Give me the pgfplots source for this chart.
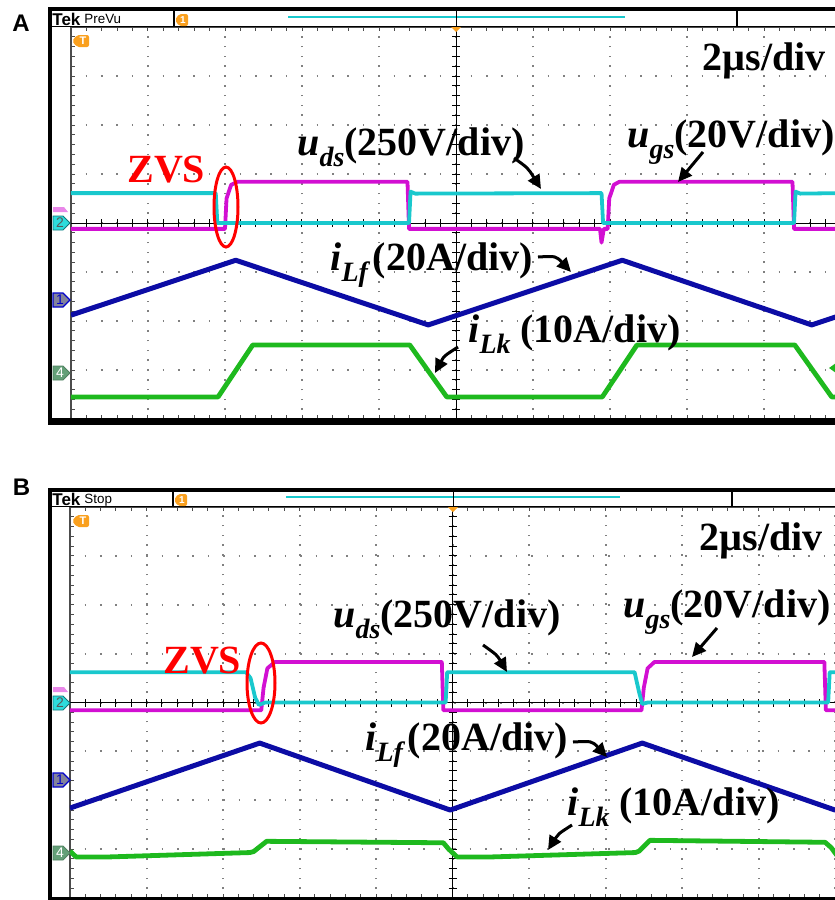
\documentclass[border=0pt]{standalone}
\usepackage{pgfplots}
\pgfplotsset{compat=1.18}
\usepackage{fontspec}
\setmainfont{Liberation Serif}
\newfontfamily\sansf{Liberation Sans}
\usetikzlibrary{arrows.meta}

\definecolor{cyanT}{RGB}{25,200,205}
\definecolor{magT}{RGB}{210,15,210}
\definecolor{blueT}{RGB}{12,12,165}
\definecolor{greenT}{RGB}{30,185,30}
\definecolor{orangeT}{RGB}{250,160,30}
\definecolor{mk1}{RGB}{130,130,155}
\definecolor{mk4}{RGB}{100,160,120}
\definecolor{mk2}{RGB}{45,220,220}

\newcommand{\lbl}[3][0pt]{\textit{#2}\raisebox{-0.28em}{\fontsize{14pt}{14pt}\selectfont\itshape #3}\kern#1\relax}
\newcommand{\bigf}{\fontsize{20pt}{24pt}\selectfont\bfseries}

\pgfplotsset{tek/.style={
  scale only axis, anchor=south west, ymin=0, ymax=8, xmin=0,
  xtick={0,...,10}, ytick={0,...,8}, minor x tick num=4, minor y tick num=4,
  xticklabels={}, yticklabels={},
  tick align=inside, major tick length=2.2pt, minor tick length=2.2pt,
  tick style={black!70, line width=0.5pt},
  grid=major,
  x grid style={black!50, line width=1pt, dash pattern=on 0.8pt off 4.1pt, dash phase=0.4pt},
  y grid style={black!50, line width=1pt, dash pattern=on 0.8pt off 6.9pt, dash phase=0.4pt},
  axis line style={black!70, line width=0.6pt},
  trace/.style={line width=1.9pt, line join=round},
}}

\begin{document}
\begin{tikzpicture}
\path[use as bounding box] (0,0) rectangle (417.5pt,-450pt);
\begin{scope}
\clip (0,0) rectangle (417.5pt,-450pt);

% ---------------- Panel A ----------------
\begin{axis}[tek, at={(35.5pt,-209.5pt)}, width=385pt, height=196pt, xmax=10]
\draw[black, line width=0.5pt] (axis cs:5,0) -- (axis cs:5,8);
\draw[black, line width=0.5pt] (axis cs:0,4) -- (axis cs:10,4);
\pgfplotsinvokeforeach{0,...,50}{\draw[black,line width=0.5pt] (axis cs:#1/5,4) ++(0,-2pt) -- ++(0,4pt);}
\pgfplotsinvokeforeach{0,...,40}{\draw[black,line width=0.5pt] (axis cs:5,#1/5) ++(-2pt,0) -- ++(4pt,0);}
% u_gs
\addplot[magT, trace] coordinates {(0,3.88)(2.00,3.88)(2.02,4.5)(2.08,4.78)(2.16,4.84)(4.37,4.84)(4.39,3.88)(6.87,3.88)(6.89,3.6)(6.92,3.88)(6.97,3.88)(6.99,4.5)(7.05,4.78)(7.12,4.84)(9.37,4.84)(9.39,3.88)(10,3.88)};
% u_ds
\addplot[cyanT, trace] coordinates {(0,4.61)(1.88,4.61)(1.90,4.0)(4.39,4.0)(4.41,4.64)(4.47,4.60)(6.89,4.61)(6.91,4.0)(9.39,4.0)(9.41,4.64)(9.47,4.60)(10,4.61)};
% i_Lf
\addplot[blueT, trace, line width=2.5pt] coordinates {(0,2.12)(2.14,3.24)(4.64,1.92)(7.16,3.24)(9.62,1.92)(10,2.12)};
% i_Lk
\addplot[greenT, trace, line width=2.4pt] coordinates {(0,0.45)(1.91,0.45)(2.36,1.51)(4.40,1.51)(4.88,0.45)(6.90,0.45)(7.35,1.51)(9.40,1.51)(9.88,0.45)(10,0.45)};
\end{axis}

% ---------------- Panel B ----------------
\begin{axis}[tek, at={(35pt,-449pt)}, width=387.5pt, height=195.5pt, xmax=10.13]
\draw[black, line width=0.5pt] (axis cs:5,0) -- (axis cs:5,8);
\draw[black, line width=0.5pt] (axis cs:0,4) -- (axis cs:10.13,4);
\pgfplotsinvokeforeach{0,...,50}{\draw[black,line width=0.5pt] (axis cs:#1/5,4) ++(0,-2pt) -- ++(0,4pt);}
\pgfplotsinvokeforeach{0,...,40}{\draw[black,line width=0.5pt] (axis cs:5,#1/5) ++(-2pt,0) -- ++(4pt,0);}
% u_gs
\addplot[magT, trace] coordinates {(0,3.84)(2.50,3.84)(2.53,4.3)(2.58,4.7)(2.68,4.83)(4.86,4.83)(4.88,3.84)(7.47,3.84)(7.50,4.3)(7.55,4.7)(7.64,4.83)(9.86,4.83)(9.88,3.84)(10.13,3.84)};
% u_ds
\addplot[cyanT, trace] coordinates {(0,4.62)(2.30,4.62)(2.36,4.5)(2.42,4.1)(2.47,3.95)(2.55,4.0)(4.91,4.0)(4.93,4.62)(7.38,4.62)(7.44,4.2)(7.48,3.97)(7.55,4.0)(9.91,4.0)(9.93,4.62)(10.13,4.62)};
% i_Lf
\addplot[blueT, trace, line width=2.5pt] coordinates {(0,1.84)(2.48,3.17)(4.97,1.80)(7.48,3.17)(10,1.80)(10.13,1.87)};
% i_Lk
\addplot[greenT, trace, line width=2.4pt] coordinates {(0,0.96)(0.08,0.84)(0.5,0.84)(2.35,0.93)(2.40,0.95)(2.57,1.16)(4.88,1.13)(4.95,1.0)(5.06,0.84)(5.5,0.84)(7.39,0.93)(7.44,0.96)(7.58,1.18)(9.87,1.14)(9.95,1.03)(10.03,0.86)(10.13,0.86)};
\end{axis}

% ---------------- Annotations (pixel coordinates) ----------------
\begin{scope}[x=0.5pt,y=-0.5pt]
% ===== frame A =====
\fill[white] (52,11) rectangle (835,26);
\draw[line width=2pt] (48,9) -- (835,9);
\draw[line width=0.6pt] (48,26.5) -- (835,26.5);
\draw[line width=0.6pt] (174,9) -- (174,27);
\draw[line width=0.6pt] (737,9) -- (737,27);
\draw[cyanT, line width=1pt] (288,17) -- (625,17);
\draw[line width=0.5pt] (456,9) -- (456,27);
\fill[orangeT] (451,27) -- (461,27) -- (456,32) -- cycle;
\node[anchor=base west, inner sep=0, font=\sansf\bfseries\fontsize{8.5pt}{9pt}\selectfont] at (52,25) {Tek};
\node[anchor=base west, inner sep=0, font=\sansf\fontsize{6.7pt}{7pt}\selectfont] at (84,23) {PreVu};
\fill[orangeT, rounded corners=1pt] (175,20) -- (179,14) -- (188,14) -- (188,26) -- (179,26) -- cycle;
\node[white, font=\sansf\bfseries\fontsize{5pt}{5pt}\selectfont, inner sep=0] at (183,20) {1};
\fill[orangeT, rounded corners=1pt] (72,41) -- (77,35) -- (89,35) -- (89,47) -- (77,47) -- cycle;
\node[white, font=\sansf\bfseries\fontsize{5.5pt}{6pt}\selectfont, inner sep=0] at (83,41) {T};
\draw[line width=2pt] (50,9) -- (50,424);
\draw[line width=3.5pt] (48,421) -- (835,421);
% channel markers A
\fill[magT!50] (53,207) -- (64,207) -- (68,212) -- (53,212) -- cycle;
\filldraw[fill=mk2, draw=cyanT!60!black, line width=0.4pt] (53,216) -- (63,216) -- (70,223) -- (63,230) -- (53,230) -- cycle;
\node[font=\sansf\fontsize{7pt}{7pt}\selectfont, text=black!65, inner sep=0] at (60,223) {2};
\filldraw[fill=mk1, draw=blue!80!black, line width=0.6pt] (53,293) -- (63,293) -- (70,300) -- (63,307) -- (53,307) -- cycle;
\node[font=\sansf\fontsize{7pt}{7pt}\selectfont, text=blue!80!black, inner sep=0] at (60,300) {1};
\filldraw[fill=mk4, draw=mk4!80!black, line width=0.4pt] (53,366) -- (63,366) -- (70,373) -- (63,380) -- (53,380) -- cycle;
\node[font=\sansf\fontsize{7pt}{7pt}\selectfont, text=white, inner sep=0] at (60,373) {4};
\fill[greenT] (829,368) -- (836,363) -- (836,373) -- cycle;

% ===== frame B =====
\fill[white] (52,492) rectangle (835,506);
\draw[line width=2pt] (48,490) -- (835,490);
\draw[line width=0.6pt] (48,506.5) -- (835,506.5);
\draw[line width=0.6pt] (173,490) -- (173,507);
\draw[line width=0.6pt] (732,490) -- (732,507);
\draw[cyanT, line width=1pt] (286,497) -- (620,497);
\draw[line width=0.5pt] (453,490) -- (453,507);
\fill[orangeT] (448,507) -- (458,507) -- (453,512) -- cycle;
\node[anchor=base west, inner sep=0, font=\sansf\bfseries\fontsize{8.5pt}{9pt}\selectfont] at (52,505) {Tek};
\node[anchor=base west, inner sep=0, font=\sansf\fontsize{6.7pt}{7pt}\selectfont] at (84,503) {Stop};
\fill[orangeT, rounded corners=1pt] (174,500) -- (178,494) -- (187,494) -- (187,506) -- (178,506) -- cycle;
\node[white, font=\sansf\bfseries\fontsize{5pt}{5pt}\selectfont, inner sep=0] at (182,500) {1};
\fill[orangeT, rounded corners=1pt] (72,521) -- (77,515) -- (89,515) -- (89,527) -- (77,527) -- cycle;
\node[white, font=\sansf\bfseries\fontsize{5.5pt}{6pt}\selectfont, inner sep=0] at (83,521) {T};
\draw[line width=2pt] (50,490) -- (50,900);
\draw[line width=3pt] (48,899.5) -- (835,899.5);
% channel markers B
\fill[magT!50] (53,687) -- (64,687) -- (68,692) -- (53,692) -- cycle;
\filldraw[fill=mk2, draw=cyanT!60!black, line width=0.4pt] (53,696) -- (63,696) -- (70,703) -- (63,710) -- (53,710) -- cycle;
\node[font=\sansf\fontsize{7pt}{7pt}\selectfont, text=black!65, inner sep=0] at (60,703) {2};
\filldraw[fill=mk1, draw=blue!80!black, line width=0.6pt] (53,773) -- (63,773) -- (70,780) -- (63,787) -- (53,787) -- cycle;
\node[font=\sansf\fontsize{7pt}{7pt}\selectfont, text=blue!80!black, inner sep=0] at (60,780) {1};
\filldraw[fill=mk4, draw=mk4!80!black, line width=0.4pt] (53,846) -- (63,846) -- (70,853) -- (63,860) -- (53,860) -- cycle;
\node[font=\sansf\fontsize{7pt}{7pt}\selectfont, text=white, inner sep=0] at (60,853) {4};

% ===== panel letters =====
\node[font=\sansf\bfseries\fontsize{12pt}{12pt}\selectfont, inner sep=0] at (21,23.5) {A};
\node[font=\sansf\bfseries\fontsize{12pt}{12pt}\selectfont, inner sep=0] at (21.5,487.5) {B};

% ===== texts A =====
\node[anchor=base east, inner sep=0, font=\bigf] at (826,70) {2µs/div};
\node[anchor=base west, inner sep=0, font=\bigf] at (297,155) {\lbl{u}{ds}(250V/div)};
\node[anchor=base west, inner sep=0, font=\bigf] at (627,147) {\lbl{u}{gs}(20V/div)};
\node[anchor=base west, inner sep=0, font=\bigf, text=red] at (127,182) {ZVS};
\node[anchor=base west, inner sep=0, font=\bigf] at (330,270) {\lbl[2.5pt]{i}{Lf}(20A/div)};
\node[anchor=base west, inner sep=0, font=\bigf] at (468,342) {\lbl{i}{Lk}\ (10A/div)};
\draw[red, line width=1.5pt] (226,207) ellipse [x radius=12, y radius=40];
\draw[line width=1.5pt, -{Triangle[length=7pt,width=6.5pt]}] (514,158) .. controls (528,168) .. (541,189);
\draw[line width=1.5pt, -{Triangle[length=7pt,width=6.5pt]}] (703,152) -- (678,182);
\draw[line width=1.5pt, -{Triangle[length=7pt,width=6.5pt]}] (538,257) .. controls (556,256) .. (571,272);
\draw[line width=1.5pt, -{Triangle[length=7pt,width=6.5pt]}] (458,347) .. controls (444,356) .. (435,373);

% ===== texts B =====
\node[anchor=base east, inner sep=0, font=\bigf] at (823,550) {2µs/div};
\node[anchor=base west, inner sep=0, font=\bigf] at (333,627) {\lbl{u}{ds}(250V/div)};
\node[anchor=base west, inner sep=0, font=\bigf] at (623,617) {\lbl{u}{gs}(20V/div)};
\node[anchor=base west, inner sep=0, font=\bigf, text=red] at (163,673) {ZVS};
\node[anchor=base west, inner sep=0, font=\bigf] at (365,750) {\lbl[2.5pt]{i}{Lf}(20A/div)};
\node[anchor=base west, inner sep=0, font=\bigf] at (567,815) {\lbl{i}{Lk}\ (10A/div)};
\draw[red, line width=1.5pt] (261,683) ellipse [x radius=14, y radius=40];
\draw[line width=1.5pt, -{Triangle[length=7pt,width=6.5pt]}] (483,645) .. controls (497,655) .. (507,672);
\draw[line width=1.5pt, -{Triangle[length=7pt,width=6.5pt]}] (717,628) -- (692,657);
\draw[line width=1.5pt, -{Triangle[length=7pt,width=6.5pt]}] (573,742) .. controls (592,741) .. (607,757);
\draw[line width=1.5pt, -{Triangle[length=7pt,width=6.5pt]}] (572,825) .. controls (558,834) .. (548,850);
\end{scope}
\end{scope}
\end{tikzpicture}
\end{document}
